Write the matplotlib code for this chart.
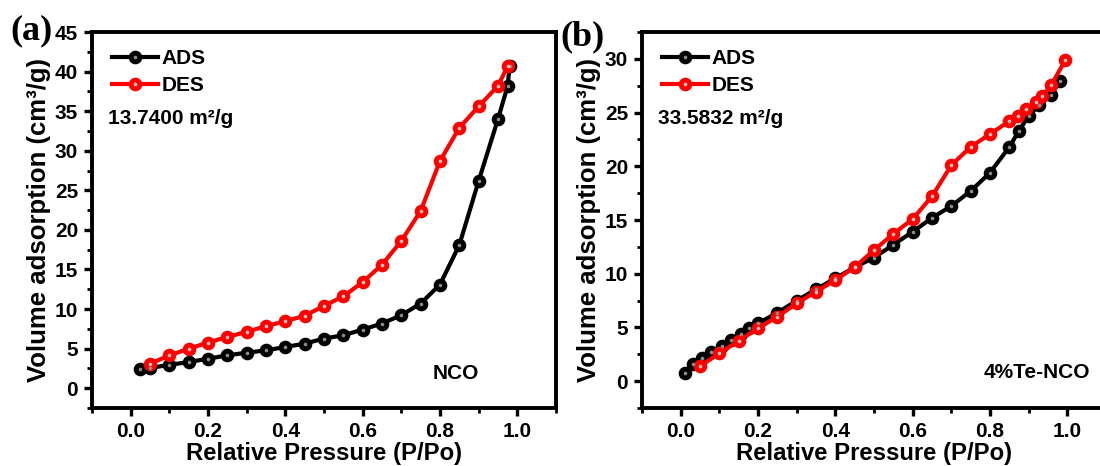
import matplotlib
matplotlib.use('Agg')
import matplotlib.pyplot as plt
from matplotlib.ticker import MultipleLocator
from matplotlib.legend_handler import HandlerTuple

plt.rcParams['font.family'] = ['Liberation Sans', 'DejaVu Sans']
plt.rcParams['font.weight'] = 'bold'

# ---- panel (a): NCO ----
ads_a_x = [0.025, 0.05, 0.10, 0.15, 0.20, 0.25, 0.30, 0.35, 0.40, 0.45, 0.50,
           0.55, 0.60, 0.65, 0.70, 0.75, 0.80, 0.85, 0.90, 0.95, 0.975, 0.98]
ads_a_y = [2.37, 2.55, 2.96, 3.30, 3.73, 4.15, 4.49, 4.78, 5.21, 5.63, 6.27,
           6.69, 7.41, 8.17, 9.23, 10.7, 13.1, 18.1, 26.2, 34.0, 38.2, 40.7]
des_a_x = [0.05, 0.10, 0.15, 0.20, 0.25, 0.30, 0.35, 0.40, 0.45, 0.50, 0.55,
           0.60, 0.65, 0.70, 0.75, 0.80, 0.85, 0.90, 0.95, 0.975]
des_a_y = [3.09, 4.15, 4.99, 5.76, 6.48, 7.12, 7.84, 8.47, 9.15, 10.4, 11.6,
           13.4, 15.6, 18.6, 22.4, 28.7, 32.9, 35.6, 38.2, 40.7]

# ---- panel (b): 4%Te-NCO ----
ads_b_x = [0.01, 0.033, 0.054, 0.078, 0.108, 0.131, 0.155, 0.177, 0.20, 0.25,
           0.30, 0.35, 0.40, 0.45, 0.50, 0.55, 0.60, 0.65, 0.70, 0.75, 0.80,
           0.85, 0.875, 0.90, 0.928, 0.957, 0.98]
ads_b_y = [0.78, 1.58, 2.11, 2.67, 3.26, 3.82, 4.38, 4.91, 5.38, 6.37, 7.49,
           8.55, 9.57, 10.6, 11.5, 12.7, 13.9, 15.2, 16.3, 17.7, 19.4, 21.8,
           23.3, 24.7, 25.7, 26.6, 27.9]
des_b_x = [0.05, 0.10, 0.15, 0.20, 0.25, 0.30, 0.35, 0.40, 0.45, 0.50, 0.55,
           0.60, 0.65, 0.70, 0.75, 0.80, 0.85, 0.872, 0.894, 0.918, 0.935,
           0.959, 0.995]
des_b_y = [1.40, 2.58, 3.76, 4.91, 6.00, 7.24, 8.33, 9.41, 10.6, 12.2, 13.7,
           15.1, 17.2, 20.1, 21.8, 23.0, 24.2, 24.7, 25.3, 26.0, 26.5, 27.6,
           29.9]

series_labels = ['ADS', 'DES']
panel_tags = ['(a)', '(b)']
areas = ['13.7400 m²/g', '33.5832 m²/g']
samples = ['NCO', '4%Te-NCO']


def sphere(ax, x, y, color, hilite):
    # Origin-like ball marker: solid dot with a lighter centre
    ln, = ax.plot(x, y, '-o', color=color, lw=3.0, ms=8.8, mec=color,
                  mfc=color, zorder=3)
    hl, = ax.plot(x, y, 'o', ms=2.6, color=hilite, mew=0, zorder=4)
    return ln, hl


def style_axes(ax, ylim, ymajor):
    ax.set_xlim(-0.1, 1.1)
    ax.set_ylim(*ylim)
    ax.xaxis.set_major_locator(MultipleLocator(0.2))
    ax.xaxis.set_minor_locator(MultipleLocator(0.1))
    ax.yaxis.set_major_locator(MultipleLocator(ymajor))
    ax.yaxis.set_minor_locator(MultipleLocator(ymajor / 2))
    ax.set_xticks([0.0, 0.2, 0.4, 0.6, 0.8, 1.0])
    ax.tick_params(which='major', direction='out', length=6, width=2.4,
                   labelsize=15, pad=4)
    ax.tick_params(which='minor', direction='out', length=3.5, width=2.0)
    for s in ax.spines.values():
        s.set_linewidth(2.8)
    ax.set_xlabel('Relative Pressure (P/Po)', fontsize=17.2,
                  fontweight='bold', labelpad=1)
    ax.set_ylabel('Volume adsorption (cm³/g)', fontsize=18.5,
                  fontweight='bold', labelpad=3)


fig = plt.figure(figsize=(11, 4.66), dpi=100)
ax_a = fig.add_axes([92 / 1100, 58 / 466, 464 / 1100, 376 / 466])
ax_b = fig.add_axes([642 / 1100, 58 / 466, 464 / 1100, 376 / 466])

panels = [
    (ax_a, ads_a_x, ads_a_y, des_a_x, des_a_y, (-2.5, 45), 5, (0.84, 1.8)),
    (ax_b, ads_b_x, ads_b_y, des_b_x, des_b_y, (-2.5, 32.5), 5, (0.92, 0.84)),
]

for i, (ax, ax_x, ax_y, dx, dy, ylim, ym, spos) in enumerate(panels):
    h1 = sphere(ax, ax_x, ax_y, 'black', '#8c8c8c')
    h2 = sphere(ax, dx, dy, '#ff0000', '#ffc0c0')
    style_axes(ax, ylim, ym)
    ax.legend([h1, h2], series_labels, handler_map={tuple: HandlerTuple()},
              loc='upper left', bbox_to_anchor=(0.018, 0.985), frameon=False,
              fontsize=15, handlelength=2.2, handletextpad=0.2,
              labelspacing=0.38, borderpad=0.35, borderaxespad=0.2)
    ax.text(0.034, 0.771, areas[i], transform=ax.transAxes, fontsize=15,
            fontweight='bold', va='center', ha='left')
    ax.text(spos[0], spos[1], samples[i], fontsize=15, fontweight='bold',
            ha='center', va='center')

fig.text(32 / 1100, 1 - 31 / 466, panel_tags[0], fontsize=26,
         fontweight='bold', family='Liberation Serif', ha='center',
         va='center')
fig.text(583 / 1100, 1 - 37 / 466, panel_tags[1], fontsize=26,
         fontweight='bold', family='Liberation Serif', ha='center',
         va='center')

fig.savefig('out.png', dpi=100)
